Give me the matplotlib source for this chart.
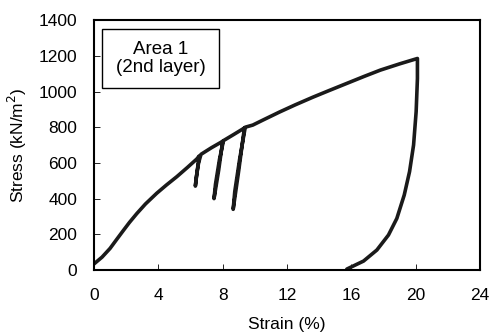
import matplotlib.pyplot as plt
from matplotlib.patches import Rectangle

plt.rcParams['font.family'] = ['Liberation Sans', 'DejaVu Sans']

# loading envelope with three unload/reload loops, then the final unloading
strain = [0.0, 0.5, 1.0, 1.4, 1.83, 2.2, 2.66, 3.2, 3.9, 4.5, 5.15, 5.8, 6.39, 6.55,
          6.42, 6.3,
          6.36, 6.5, 6.65, 7.3, 7.9, 8.0,
          7.75, 7.46,
          7.55, 7.8, 8.05, 8.7, 9.3, 9.35,
          9.0, 8.65,
          8.75, 9.05, 9.4, 9.87, 10.5, 11.53, 12.5, 13.6, 14.6, 15.7, 16.8,
          17.8, 19.0, 20.1,
          20.1, 20.02, 19.86, 19.61, 19.28, 18.82, 18.3, 17.58, 16.75, 15.71]
stress = [34, 72, 121, 170, 222, 266, 316, 370, 430, 476, 523, 574, 622, 640,
          560, 470,
          520, 600, 648, 685, 716, 722,
          560, 400,
          480, 620, 725, 760, 793, 797,
          560, 340,
          440, 620, 800, 812, 840, 885, 925, 968, 1005, 1045, 1085,
          1120, 1155, 1185,
          1073, 887, 700, 551, 420, 289, 196, 112, 50, 5]

fig = plt.figure(figsize=(4.92, 3.35), dpi=100)
ax = fig.add_axes([0.191, 0.194, 0.785, 0.746])
ax.plot(strain, stress, color='#1a1a1a', lw=2.6, solid_joinstyle='round',
        solid_capstyle='round')

ax.set_xlim(0, 24)
ax.set_ylim(0, 1400)
ax.set_xticks([0, 4, 8, 12, 16, 20, 24])
ax.set_yticks(range(0, 1401, 200))
ax.tick_params(direction='in', length=4, width=0.6, labelsize=12.5)
ax.tick_params(axis='x', pad=13)
ax.tick_params(axis='y', pad=12)
for s in ax.spines.values():
    s.set_linewidth(1.5)
ax.set_xlabel('Strain (%)', fontsize=12.5, labelpad=10)
ax.set_ylabel('Stress (kN/m$^2$)', fontsize=12.5, labelpad=7)

ax.add_patch(Rectangle((0.021, 0.727), 0.303, 0.237, transform=ax.transAxes,
                       fc='white', ec='black', lw=1.0, zorder=3))
ax.text(0.172, 0.846, 'Area 1\n(2nd layer)', transform=ax.transAxes,
        ha='center', va='center', fontsize=13.5, linespacing=1.05, zorder=4)

fig.savefig('out.png', dpi=100)
